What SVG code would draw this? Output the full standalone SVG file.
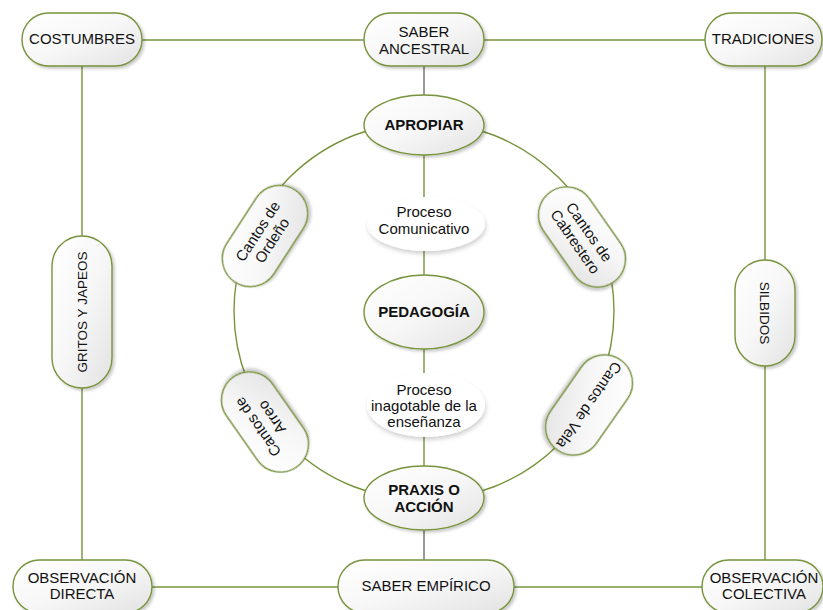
<svg xmlns="http://www.w3.org/2000/svg" width="823" height="610" viewBox="0 0 823 610">
<defs>
<linearGradient id="g" x1="0" y1="0" x2="1" y2="1">
<stop offset="0" stop-color="#ffffff"/>
<stop offset="0.5" stop-color="#f7f7f7"/>
<stop offset="1" stop-color="#e2e2e2"/>
</linearGradient>
<filter id="sh" x="-20%" y="-20%" width="140%" height="150%">
<feDropShadow dx="2" dy="2" stdDeviation="1.5" flood-color="#000" flood-opacity="0.22"/>
</filter>
<filter id="sh2" x="-20%" y="-20%" width="140%" height="150%">
<feDropShadow dx="1" dy="3" stdDeviation="2" flood-color="#000" flood-opacity="0.18"/>
</filter>
</defs>
<style>
.n{fill:url(#g);stroke:#77933c;stroke-width:1.4;filter:url(#sh)}
.p{fill:#ffffff;filter:url(#sh2)}
.c{fill:none;stroke:#77933c;stroke-width:1.4}
.cg{fill:none;stroke:#6e6e6e;stroke-width:1.4}
text{font-family:"Liberation Sans",Arial,sans-serif;font-size:15px;fill:#111;text-anchor:middle}
.b{font-weight:bold}
.s{font-size:13.5px}
</style>
<rect width="823" height="610" fill="#ffffff"/>
<g id="connectors">
<line class="c" x1="142" y1="40" x2="364" y2="40"/>
<line class="c" x1="484" y1="40" x2="705" y2="40"/>
<line class="c" x1="82" y1="66" x2="82" y2="236"/>
<line class="c" x1="82" y1="388" x2="82" y2="560"/>
<line class="c" x1="765" y1="66" x2="765" y2="260"/>
<line class="c" x1="765" y1="366" x2="765" y2="560"/>
<line class="c" x1="152" y1="587" x2="338" y2="587"/>
<line class="c" x1="514" y1="587" x2="702" y2="587"/>
<line class="cg" x1="424" y1="66" x2="424" y2="96"/>
<line class="c" x1="424" y1="155" x2="424" y2="200"/>
<line class="c" x1="424" y1="248" x2="424" y2="275"/>
<line class="c" x1="424" y1="349" x2="424" y2="374"/>
<line class="c" x1="424" y1="436" x2="424" y2="467"/>
<line class="cg" x1="424" y1="530" x2="424" y2="560"/>
<ellipse class="c" cx="424" cy="311" rx="190" ry="189"/>
</g>
<g id="costumbres"><rect class="n" x="22" y="13" width="120" height="53" rx="26.5"/><text x="82" y="44">COSTUMBRES</text></g>
<g id="saber-ancestral"><rect class="n" x="364" y="13" width="120" height="53" rx="26.5"/><text x="424" y="37">SABER</text><text x="424" y="54">ANCESTRAL</text></g>
<g id="tradiciones"><rect class="n" x="705" y="13" width="117" height="53" rx="26.5"/><text x="763" y="44">TRADICIONES</text></g>
<g id="gritos"><rect class="n" x="52" y="236" width="60" height="152" rx="30"/><text class="s" transform="translate(82,312) rotate(-90)" y="5">GRITOS Y JAPEOS</text></g>
<g id="silbidos"><rect class="n" x="735" y="260" width="60" height="106" rx="30"/><text class="s" transform="translate(765,313) rotate(90)" y="5">SILBIDOS</text></g>
<g id="apropiar"><ellipse class="n" cx="424" cy="125" rx="60" ry="30"/><text class="b" x="424" y="130">APROPIAR</text></g>
<g id="proceso-comunicativo"><ellipse class="p" cx="426" cy="224" rx="59" ry="27"/><text x="424" y="217">Proceso</text><text x="424" y="234">Comunicativo</text></g>
<g id="pedagogia"><ellipse class="n" cx="424" cy="312" rx="60" ry="37"/><text class="b" x="424" y="317">PEDAGOGÍA</text></g>
<g id="proceso-inagotable"><ellipse class="p" cx="426" cy="405" rx="59" ry="32"/><text x="424" y="395">Proceso</text><text x="424" y="411">inagotable de la</text><text x="424" y="427">enseñanza</text></g>
<g id="praxis"><ellipse class="n" cx="424" cy="498" rx="60" ry="32"/><text class="b" x="424" y="495">PRAXIS O</text><text class="b" x="424" y="512">ACCIÓN</text></g>
<g id="ordeno" transform="translate(265,236) rotate(-57)"><rect class="n" x="-55" y="-28" width="110" height="56" rx="28"/><text x="0" y="-3.5">Cantos de</text><text x="0" y="13.5">Ordeño</text></g>
<g id="cabrestero" transform="translate(582,237) rotate(55)"><rect class="n" x="-55" y="-28" width="110" height="56" rx="28"/><text x="0" y="-3.5">Cantos de</text><text x="0" y="13.5">Cabrestero</text></g>
<g id="vela" transform="translate(589,405) rotate(125)"><rect class="n" x="-55" y="-28" width="110" height="56" rx="28"/><text x="0" y="5">Cantos de Vela</text></g>
<g id="arreo" transform="translate(265,422) rotate(-125)"><rect class="n" x="-55" y="-28" width="110" height="56" rx="28"/><text x="0" y="-3.5">Cantos de</text><text x="0" y="13.5">Arreo</text></g>
<g id="obs-directa"><rect class="n" x="13" y="560" width="139" height="53" rx="26.5"/><text x="82" y="583">OBSERVACIÓN</text><text x="82" y="599">DIRECTA</text></g>
<g id="saber-empirico"><rect class="n" x="338" y="560" width="176" height="53" rx="26.5"/><text x="426" y="591">SABER EMPÍRICO</text></g>
<g id="obs-colectiva"><rect class="n" x="702" y="560" width="121" height="53" rx="26.5"/><text x="764" y="583">OBSERVACIÓN</text><text x="764" y="599">COLECTIVA</text></g>
</svg>
